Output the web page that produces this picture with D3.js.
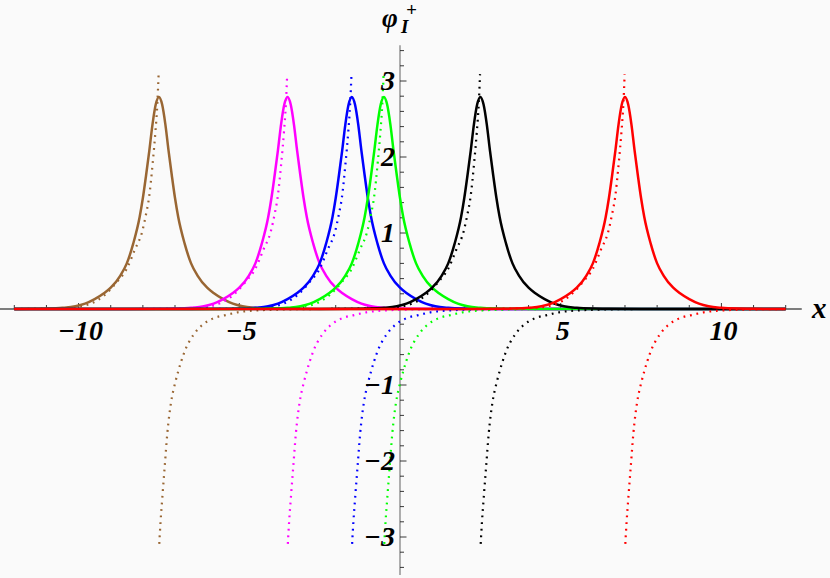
<!DOCTYPE html>
<html>
<head>
<meta charset="utf-8">
<script src="https://cdn.jsdelivr.net/npm/d3@7"></script>
<style>
  body { margin: 0; background: #fafafa; }
  svg { display: block; }
  .tick-label { font-family: "Liberation Serif", "DejaVu Serif", serif; font-weight: bold; font-style: italic; }
</style>
</head>
<body>
<div id="chart"></div>
<script>
// Centres of the six pulses (x where the peak / pole sits)
const centres = [-7.5, -3.5, -1.5, -0.5, 2.5, 7.0];
const seriesColours = ["#996633", "#ff00ff", "#0000ff", "#00ff00", "#000000", "#ff0000"];

// Solid pulse profile (offset from centre, value)
const solidOffsets = [-5, -4, -3.5, -3, -2.6, -2.3, -2, -1.7, -1.5, -1.2, -1, -0.8, -0.6, -0.5, -0.4, -0.3, -0.2, -0.1, 0,
  0.1, 0.2, 0.3, 0.4, 0.5, 0.6, 0.8, 1, 1.2, 1.5, 1.7, 2, 2.3, 2.6, 3, 3.5, 4, 5];
const solidValues = [0, 0.002, 0.005, 0.015, 0.035, 0.07, 0.13, 0.21, 0.28, 0.44, 0.6, 0.86, 1.21, 1.46, 1.76, 2.08, 2.43, 2.69, 2.79,
  2.69, 2.43, 2.08, 1.76, 1.46, 1.21, 0.86, 0.6, 0.44, 0.28, 0.21, 0.13, 0.07, 0.035, 0.015, 0.005, 0.002, 0];

// Dotted curve, branch left of the pole (positive)
const dotLeftOffsets = [-5, -4, -3.5, -3, -2.5, -2.1, -1.7, -1.3, -1.0, -0.75, -0.52, -0.4, -0.31, -0.19, -0.11, -0.05, -0.01];
const dotLeftValues = [0, 0.003, 0.006, 0.012, 0.03, 0.075, 0.18, 0.36, 0.53, 0.78, 1.02, 1.25, 1.46, 1.94, 2.33, 2.7, 3.09];

// Dotted curve, branch right of the pole (negative)
const dotRightOffsets = [0.01, 0.05, 0.1, 0.18, 0.26, 0.38, 0.5, 0.6, 0.78, 1.09, 1.35, 1.71, 2.07, 2.5, 3, 3.5, 4, 5];
const dotRightValues = [-3.09, -2.8, -2.51, -2.07, -1.64, -1.22, -0.98, -0.82, -0.58, -0.33, -0.21, -0.12, -0.08, -0.04, -0.02, -0.01, -0.005, 0];

const xLabelTicks = [-10, -5, 5, 10];
const yLabelTicks = [-3, -2, -1, 1, 2, 3];

const width = 830, height = 578;
const xMin = -12, xMax = 12;

const svg = d3.select("#chart").append("svg")
  .attr("width", width)
  .attr("height", height);

svg.append("rect").attr("width", width).attr("height", height).attr("fill", "#fafafa");

// Scales
const x = d3.scaleLinear().domain([-12, 12]).range([14.3, 785.7]);
const y = d3.scaleLinear().domain([-3, 3]).range([537, 81]);

// Axes
svg.append("line")
  .attr("x1", x(-12.45)).attr("x2", x(12.5))
  .attr("y1", y(0)).attr("y2", y(0))
  .attr("stroke", "#000").attr("stroke-width", 1);

svg.append("line")
  .attr("x1", x(0)).attr("x2", x(0))
  .attr("y1", y(3.47)).attr("y2", y(-3.5))
  .attr("stroke", "#9a9a9a").attr("stroke-width", 1.6);

// x ticks (every unit, upward)
const xTicks = d3.range(-12, 13).filter((d) => d !== 0);
svg.append("g").selectAll("line")
  .data(xTicks)
  .join("line")
  .attr("x1", (d) => x(d)).attr("x2", (d) => x(d))
  .attr("y1", y(0))
  .attr("y2", (d) => y(0) - (d % 5 === 0 ? 6 : 4))
  .attr("stroke", "#222").attr("stroke-width", 0.9);

// y ticks (every 0.2, to the right)
const yTicks = d3.range(-17, 18).filter((d) => d !== 0).map((d) => d / 5);
svg.append("g").selectAll("line")
  .data(yTicks)
  .join("line")
  .attr("y1", (d) => y(d)).attr("y2", (d) => y(d))
  .attr("x1", x(0))
  .attr("x2", (d) => x(0) + (Math.abs(d - Math.round(d)) < 1e-6 ? 6.5 : 4))
  .attr("stroke", "#222").attr("stroke-width", 0.9);

// Curves
const line = d3.line()
  .x((d) => x(d[0]))
  .y((d) => y(d[1]))
  .curve(d3.curveMonotoneX);

const curves = svg.append("g");

centres.forEach((c, i) => {
  const colour = seriesColours[i];

  const solid = [[xMin, 0]]
    .concat(solidOffsets.map((o, j) => [c + o, solidValues[j]]))
    .concat([[xMax, 0]])
    .filter((d) => d[0] >= xMin && d[0] <= xMax);

  const dotLeft = [[xMin, 0]]
    .concat(dotLeftOffsets.map((o, j) => [c + o, dotLeftValues[j]]))
    .filter((d) => d[0] >= xMin && d[0] <= xMax);

  const dotRight = dotRightOffsets.map((o, j) => [c + o, dotRightValues[j]])
    .concat([[xMax, 0]])
    .filter((d) => d[0] >= xMin && d[0] <= xMax);

  curves.append("path")
    .datum(solid)
    .attr("fill", "none")
    .attr("stroke", colour)
    .attr("stroke-width", 2.5)
    .attr("d", line);

  [dotLeft, dotRight].forEach((pts) => {
    curves.append("path")
      .datum(pts)
      .attr("fill", "none")
      .attr("stroke", colour)
      .attr("stroke-width", 2.2)
      .attr("stroke-dasharray", "1.8,4.8")
      .attr("d", line);
  });
});

// Tick labels
svg.append("g").selectAll("text")
  .data(xLabelTicks)
  .join("text")
  .attr("class", "tick-label")
  .attr("x", (d) => x(d) + 2)
  .attr("y", 340)
  .attr("text-anchor", "middle")
  .attr("font-size", 28)
  .text((d) => (d < 0 ? "\u2212" + Math.abs(d) : d));

svg.append("g").selectAll("text")
  .data(yLabelTicks)
  .join("text")
  .attr("class", "tick-label")
  .attr("x", x(0) - 5)
  .attr("y", (d) => y(d) + 9)
  .attr("text-anchor", "end")
  .attr("font-size", 28)
  .text((d) => (d < 0 ? "\u2212" + Math.abs(d) : d));

// Axis titles
svg.append("text")
  .attr("class", "tick-label")
  .attr("x", 812).attr("y", 318)
  .attr("font-size", 29)
  .text("x");

const yTitle = svg.append("g").attr("class", "tick-label");
yTitle.append("text").attr("x", 382).attr("y", 27).attr("font-size", 27).text("\u03C6");
yTitle.append("text").attr("x", 401).attr("y", 33).attr("font-size", 19).text("I");
yTitle.append("text").attr("x", 406).attr("y", 16).attr("font-size", 19).text("+");
</script>
</body>
</html>
